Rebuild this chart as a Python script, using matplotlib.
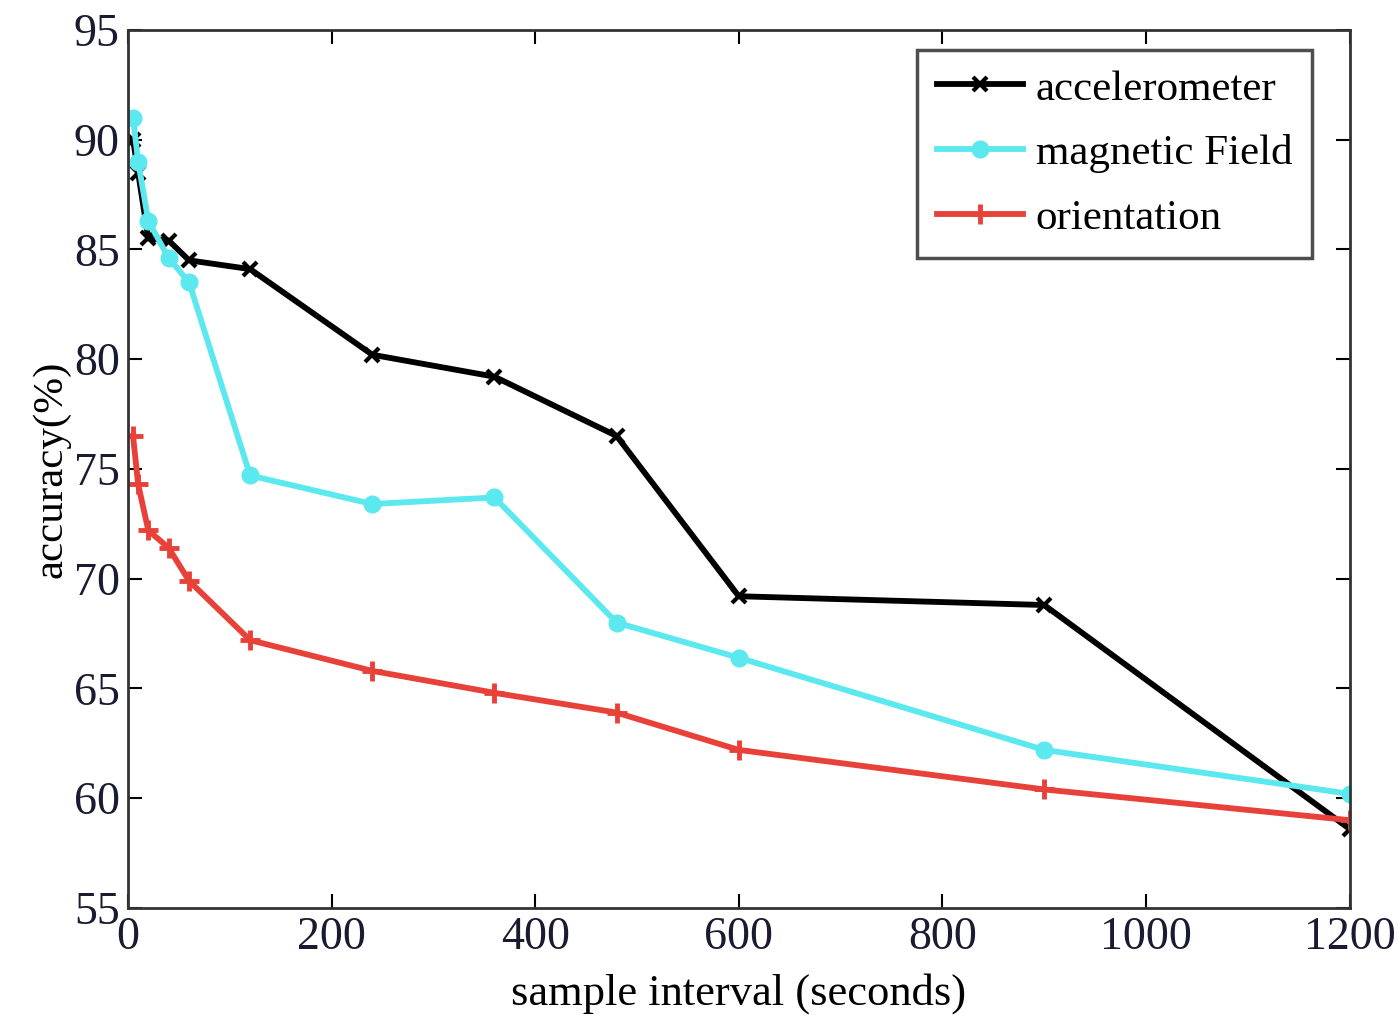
import matplotlib
matplotlib.use('Agg')
from matplotlib import pyplot as plt

interval = [5, 10, 20, 40, 60, 120, 240, 360, 480, 600, 900, 1200]
accel = [90.0, 88.5, 85.5, 85.4, 84.5, 84.1, 80.2, 79.2, 76.5, 69.2, 68.8, 58.6]
magnetic = [91.0, 89.0, 86.3, 84.6, 83.5, 74.7, 73.4, 73.7, 68.0, 66.4, 62.2, 60.2]
orient = [76.5, 74.3, 72.2, 71.4, 69.9, 67.2, 65.8, 64.8, 63.9, 62.2, 60.4, 59.0]

plt.rcParams['font.family'] = ['Liberation Serif', 'DejaVu Serif']

fig = plt.figure(figsize=(14, 10.31), dpi=100)
ax = fig.add_axes([0.0914, 0.1193, 0.8726, 0.8518])

ax.plot(interval, accel, color='black', lw=4.2, marker='x', ms=10, mew=3, label='accelerometer')
ax.plot(interval, magnetic, color='#5ce8ef', lw=4.2, marker='o', ms=12, label='magnetic Field')
ax.plot(interval, orient, color='#e8413a', lw=4.2, marker='+', ms=15, mew=3.5, label='orientation')

ax.set_xlim(0, 1200)
ax.set_ylim(55, 95)
ax.set_xticks(range(0, 1201, 200))
ax.set_yticks(range(55, 96, 5))
ax.tick_params(direction='in', length=10, width=1.5, labelsize=33, top=True, right=True,
               labelcolor='#1a1a30', pad=6)
for s in ax.spines.values():
    s.set_linewidth(2)
    s.set_color('#333333')

ax.set_xlabel('sample interval (seconds)', fontsize=32, labelpad=10)
ax.set_ylabel('accuracy(%)', fontsize=31, labelpad=2)

leg = ax.legend(loc='upper right', bbox_to_anchor=(0.969, 0.977), fontsize=31,
                frameon=True, fancybox=False, edgecolor='#222222', handlelength=2.0,
                borderpad=0.45, labelspacing=0.6, borderaxespad=0, handletextpad=0.3)
leg.get_frame().set_linewidth(2.5)

fig.savefig('out.png', dpi=100)
